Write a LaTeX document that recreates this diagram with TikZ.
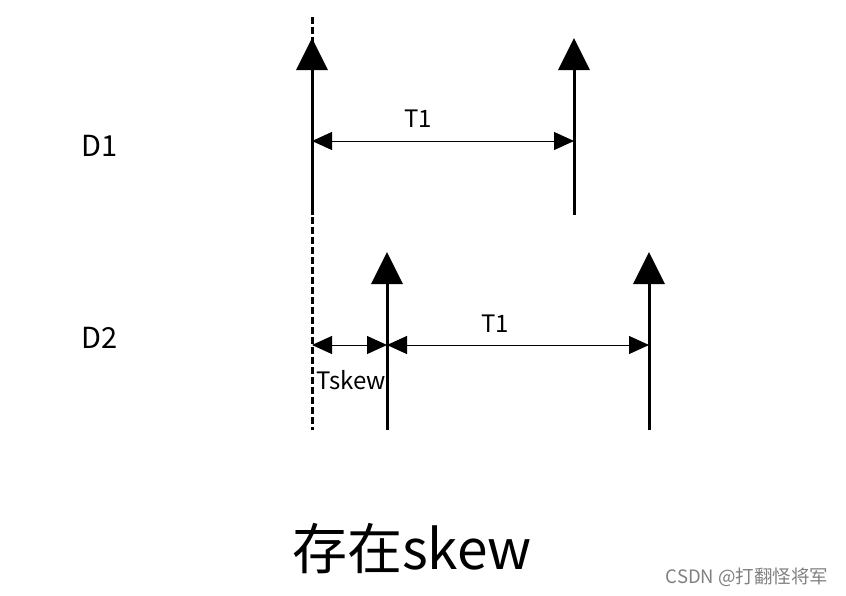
\documentclass[tikz,border=0pt]{standalone}
\usepackage{fontspec}
\setmainfont{Noto Sans CJK SC}
\usetikzlibrary{arrows.meta}
\tikzset{
  pulse/.style = {line width=3pt, -{Triangle[length=32pt,width=31pt]}},
  ref/.style   = {line width=3pt, dash pattern=on 7pt off 3pt},
  span/.style  = {line width=1pt, {Triangle[length=20pt,width=18pt]}-{Triangle[length=20pt,width=18pt]}},
  et/.style    = {font=\fontsize{24}{28}\selectfont, inner sep=0pt},
  lbl/.style   = {font=\fontsize{29}{34}\selectfont, inner sep=0pt},
  wmark/.style = {gray, font=\fontsize{18.5}{22}\selectfont, inner sep=0pt}
}
\begin{document}
\begin{tikzpicture}[x=1pt,y=-1pt]
  \useasboundingbox (0,0) rectangle (846,595);
  % reference edge
  \coordinate (r0) at (312,17); \coordinate (r1) at (312,430);
  \draw[ref] (r0)--(r1);
  % D1 pulses
  \coordinate (a0) at (312,215); \coordinate (a1) at (312,38);
  \coordinate (b0) at (574,215); \coordinate (b1) at (574,38);
  \draw[pulse] (a0)--(a1); \draw[pulse] (b0)--(b1);
  % D2 pulses
  \coordinate (c0) at (387,430); \coordinate (c1) at (387,252);
  \coordinate (d0) at (649,430); \coordinate (d1) at (649,252);
  \draw[pulse] (c0)--(c1); \draw[pulse] (d0)--(d1);
  % spans
  \coordinate (p1) at (312,141); \coordinate (q1) at (574,141);
  \coordinate (p2) at (312,345); \coordinate (q2) at (387,345); \coordinate (s2) at (649,345);
  \draw[span] (p1)--(q1); \node[et] (t1a) at (418,119) {T1};
  \draw[span] (p2)--(q2); \node[et] (tsk) at (351,380) {Tskew};
  \draw[span] (q2)--(s2); \node[et] (t1b) at (495,324) {T1};
  % row labels
  \node[lbl] (D1) at (100,146) {D1};
  \node[lbl] (D2) at (100,338) {D2};
  % caption
  \node[font=\fontsize{55}{64}\selectfont, inner sep=0pt] (cap) at (412,549) {存在skew};
  \node[wmark] (wm) at (747,577) {CSDN @打翻怪将军};
\end{tikzpicture}
\end{document}
